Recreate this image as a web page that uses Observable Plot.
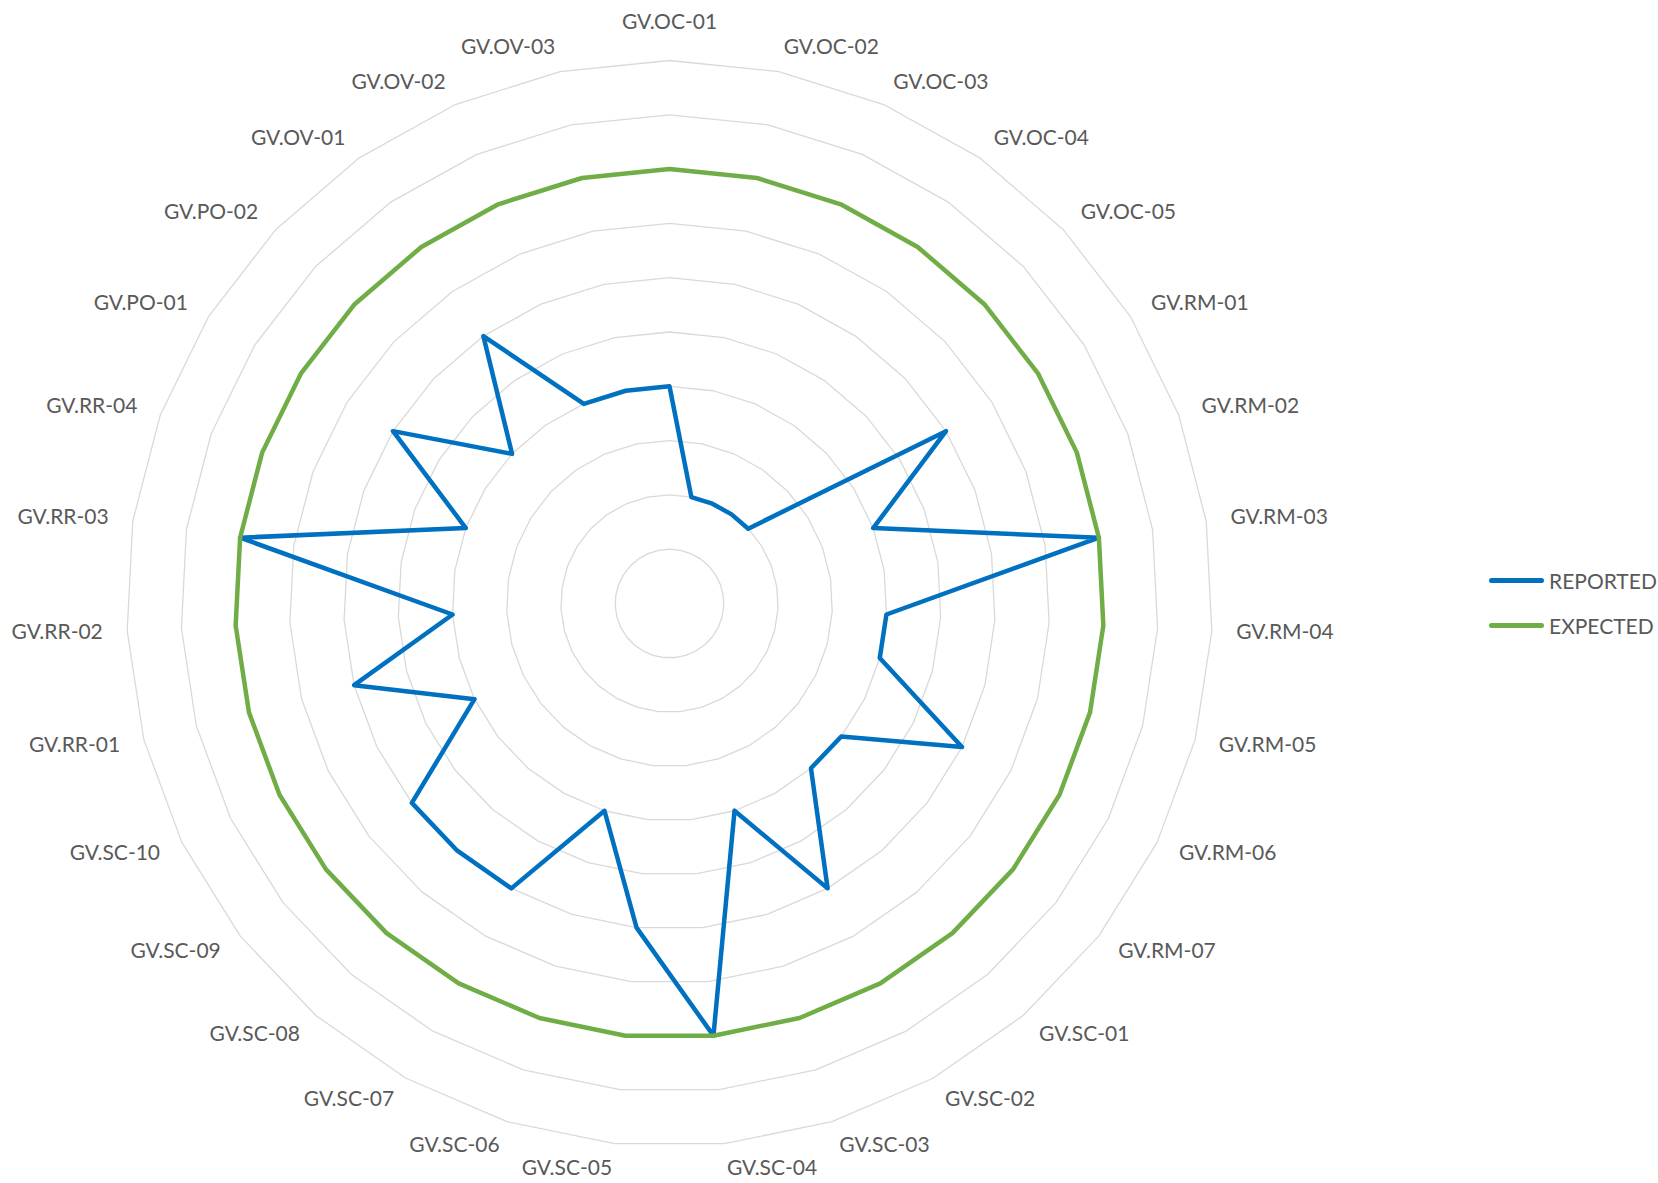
<!DOCTYPE html>
<html>
<head>
<meta charset="utf-8">
<script src="https://cdn.jsdelivr.net/npm/d3@7"></script>
<script src="https://cdn.jsdelivr.net/npm/@observablehq/plot@0.6"></script>
<style>
  html, body { margin: 0; padding: 0; background: #ffffff; }
  #wrap { position: relative; width: 1658px; height: 1183px; font-family: Lato, "Open Sans", sans-serif; }
  #legend { position: absolute; left: 1489px; top: 558px; color: #595959; font-size: 21px; }
  .item { display: flex; align-items: center; height: 45px; }
  .sw { width: 55px; height: 5px; border-radius: 3px; margin-right: 5px; }
</style>
</head>
<body>
<div id="wrap"><div id="legend"></div></div>
<script>
const categories = [
  "GV.OC-01","GV.OC-02","GV.OC-03","GV.OC-04","GV.OC-05",
  "GV.RM-01","GV.RM-02","GV.RM-03","GV.RM-04","GV.RM-05","GV.RM-06","GV.RM-07",
  "GV.SC-01","GV.SC-02","GV.SC-03","GV.SC-04","GV.SC-05","GV.SC-06","GV.SC-07","GV.SC-08","GV.SC-09","GV.SC-10",
  "GV.RR-01","GV.RR-02","GV.RR-03","GV.RR-04",
  "GV.PO-01","GV.PO-02",
  "GV.OV-01","GV.OV-02","GV.OV-03"
];
const reported = [2,1,1,1,1, 3,2,4,2,2,3,2, 2,3,2,4,3,2,3,3,3,2, 3,2,4,2, 3,2, 3,2,2];
const expected = [4,4,4,4,4, 4,4,4,4,4,4,4, 4,4,4,4,4,4,4,4,4,4, 4,4,4,4, 4,4, 4,4,4];
const gridLevels = [0.5,1,1.5,2,2.5,3,3.5,4,4.5,5];
const seriesNames = ["REPORTED","EXPECTED"];
const seriesColors = ["#0070C0","#70AD47"];

const n = categories.length;
const ang = i => 2 * Math.PI * i / n;
const pt = (v, i, extra) => ({x: v * Math.sin(ang(i)), y: v * Math.cos(ang(i)), ...extra});

const grid = gridLevels.flatMap(level => categories.map((c, i) => pt(level, i, {level})));
const reportedPts = reported.map((v, i) => pt(v, i));
const expectedPts = expected.map((v, i) => pt(v, i));

const labelR = 5.225;
const labels = categories.map((c, i) => pt(labelR, i, {label: c, s: Math.sin(ang(i))}));
const eps = 1e-9;

const cx = 669, cy = 603, R = 543;
const fs = 21;

const chart = Plot.plot({
  width: 1658,
  height: 1183,
  margin: 0,
  style: {background: "#ffffff", fontFamily: "Lato, 'Open Sans', sans-serif"},
  x: {domain: [-5, 5], range: [cx - R, cx + R], axis: null},
  y: {domain: [-5, 5], range: [cy + R, cy - R], axis: null},
  marks: [
    Plot.line(grid, {x: "x", y: "y", z: "level", curve: "linear-closed", stroke: "#d9d9d9", strokeWidth: 1.3}),
    Plot.line(reportedPts, {x: "x", y: "y", curve: "linear-closed", stroke: seriesColors[0], strokeWidth: 4.5, strokeLinejoin: "round"}),
    Plot.line(expectedPts, {x: "x", y: "y", curve: "linear-closed", stroke: seriesColors[1], strokeWidth: 4.5, strokeLinejoin: "round"}),
    Plot.text(labels.filter(d => Math.abs(d.s) < eps), {x: "x", y: "y", text: "label", textAnchor: "middle", lineAnchor: "bottom", dy: -7, fontSize: fs, fill: "#595959"}),
    Plot.text(labels.filter(d => d.s >= eps), {x: "x", y: "y", text: "label", textAnchor: "start", lineAnchor: "middle", fontSize: fs, fill: "#595959"}),
    Plot.text(labels.filter(d => d.s <= -eps), {x: "x", y: "y", text: "label", textAnchor: "end", lineAnchor: "middle", fontSize: fs, fill: "#595959"})
  ]
});
document.getElementById("wrap").prepend(chart);

const legend = document.getElementById("legend");
seriesNames.forEach((name, k) => {
  const item = document.createElement("div");
  item.className = "item";
  const sw = document.createElement("div");
  sw.className = "sw";
  sw.style.background = seriesColors[k];
  const t = document.createElement("span");
  t.textContent = name;
  item.append(sw, t);
  legend.append(item);
});
</script>
</body>
</html>
